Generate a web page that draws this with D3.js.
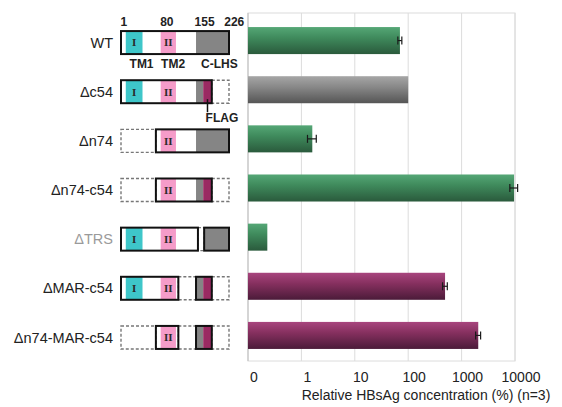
<!DOCTYPE html>
<html>
<head>
<meta charset="utf-8">
<script src="https://cdn.jsdelivr.net/npm/d3@7"></script>
<style>
  body { margin: 0; background: #fff; }
  text { font-family: "Liberation Sans", Arial, sans-serif; }
</style>
</head>
<body>
<svg id="chart" width="562" height="407"></svg>
<script>
// constructs and measured HBsAg (% of control)
const constructs = ['WT', 'Δc54', 'Δn74', 'Δn74-c54', 'ΔTRS', 'ΔMAR-c54', 'Δn74-MAR-c54'];
const values = [70, 100, 1.6, 9600, 0.23, 490, 2050];
const errors = [6, 0, 0.3, 1600, 0, 50, 220];
const barKinds = ['green', 'gray', 'green', 'green', 'green', 'purple', 'purple'];
const tickValues = [0.1, 1, 10, 100, 1000, 10000];
const tickLabels = ['0', '1', '10', '100', '1000', '10000'];

// protein map (residue coordinates)
const residueLabels = ['1', '80', '155', '226'];
const residueLabelPos = [6, 96, 175, 237];
const domainLabels = ['TM1', 'TM2', 'C-LHS'];
const domainLabelPos = [43, 109, 206];
const kept = [
  [[0, 226]],
  [[0, 190]],
  [[73, 226]],
  [[73, 190]],
  [[0, 161], [174, 226]],
  [[0, 120], [157, 190]],
  [[73, 120], [157, 190]]
];
const deleted = [
  [],
  [[190, 226]],
  [[0, 73]],
  [[0, 73], [190, 226]],
  [[161, 174]],
  [[120, 157], [190, 226]],
  [[0, 73], [120, 157], [190, 226]]
];
// [start, end, type]
const fills = [
  [[10, 45, 'tm1'], [83, 115, 'tm2'], [157, 226, 'lhs']],
  [[10, 45, 'tm1'], [83, 115, 'tm2'], [157, 172, 'lhs'], [172, 190, 'flag']],
  [[83, 115, 'tm2'], [157, 226, 'lhs']],
  [[83, 115, 'tm2'], [157, 172, 'lhs'], [172, 190, 'flag']],
  [[10, 45, 'tm1'], [83, 115, 'tm2'], [174, 226, 'lhs']],
  [[10, 45, 'tm1'], [83, 115, 'tm2'], [157, 172, 'lhs'], [172, 190, 'flag']],
  [[83, 115, 'tm2'], [157, 172, 'lhs'], [172, 190, 'flag']]
];
const fillColors = {tm1: '#3ec6c9', tm2: '#f59cc9', lhs: '#858585', flag: '#9a2a62'};
const numerals = {tm1: 'I', tm2: 'II'};

const svg = d3.select('#chart');

const y = d3.scaleBand().domain(constructs).range([16, 360]).paddingInner(0.45).paddingOuter(0.225);
const x = d3.scaleLog().domain([0.1, 10000]).range([248, 515]);
const r = d3.scaleLinear().domain([0, 226]).range([121, 229]);

// gradients for bars
const defs = svg.append('defs');
const grads = {
  green: ['#55a776', '#3f8a5c', '#2a5a3c'],
  gray: ['#a6a6a6', '#888888', '#555555'],
  purple: ['#a8457e', '#86305f', '#4b1b39']
};
Object.keys(grads).forEach(function (k) {
  const g = defs.append('linearGradient').attr('id', 'g-' + k)
    .attr('x1', 0).attr('y1', 0).attr('x2', 0).attr('y2', 1);
  g.append('stop').attr('offset', '0%').attr('stop-color', grads[k][0]);
  g.append('stop').attr('offset', '40%').attr('stop-color', grads[k][1]);
  g.append('stop').attr('offset', '100%').attr('stop-color', grads[k][2]);
});

// plot frame and grid
const plotTop = y.range()[0] - 3, plotBottom = y.range()[1] + 1;
svg.append('rect')
  .attr('x', x.range()[0]).attr('y', plotTop)
  .attr('width', x.range()[1] - x.range()[0]).attr('height', plotBottom - plotTop)
  .attr('fill', 'none').attr('stroke', '#dcdcdc');
svg.selectAll('.grid').data(tickValues).enter().append('line')
  .attr('class', 'grid')
  .attr('x1', d => x(d)).attr('x2', d => x(d))
  .attr('y1', plotTop).attr('y2', plotBottom)
  .attr('stroke', (d, i) => i === 0 ? '#bdbdbd' : '#dcdcdc');

// bars
svg.selectAll('.bar').data(constructs).enter().append('rect')
  .attr('class', 'bar')
  .attr('x', x(0.1))
  .attr('y', d => y(d))
  .attr('width', (d, i) => x(values[i]) - x(0.1))
  .attr('height', y.bandwidth())
  .attr('fill', (d, i) => 'url(#g-' + barKinds[i] + ')');

// error bars
constructs.forEach(function (c, i) {
  if (!errors[i]) return;
  const cy = y(c) + y.bandwidth() / 2;
  const x0 = x(values[i] - errors[i]), x1 = x(values[i] + errors[i]);
  const e = svg.append('g').attr('stroke', '#1a1a1a').attr('stroke-width', 1.2);
  e.append('line').attr('x1', x0).attr('x2', x1).attr('y1', cy).attr('y2', cy);
  e.append('line').attr('x1', x0).attr('x2', x0).attr('y1', cy - 4).attr('y2', cy + 4);
  e.append('line').attr('x1', x1).attr('x2', x1).attr('y1', cy - 4).attr('y2', cy + 4);
});

// x axis labels
svg.selectAll('.tick-label').data(tickValues).enter().append('text')
  .attr('x', d => x(d) + 6).attr('y', 382)
  .attr('text-anchor', 'middle').attr('font-size', 14).attr('fill', '#222')
  .text((d, i) => tickLabels[i]);
svg.append('text')
  .attr('x', 426).attr('y', 400).attr('text-anchor', 'middle')
  .attr('font-size', 14).attr('fill', '#222')
  .text('Relative HBsAg concentration (%) (n=3)');

// row labels
svg.selectAll('.row-label').data(constructs).enter().append('text')
  .attr('x', 113).attr('y', d => y(d) + y.bandwidth() / 2 + 2)
  .attr('dy', '0.35em').attr('text-anchor', 'end').attr('font-size', 14.5)
  .attr('fill', d => d === 'ΔTRS' ? '#9a9a9a' : '#222')
  .text(d => d);

// protein maps
const boxH = 23;
constructs.forEach(function (c, i) {
  const cy = y(c) + y.bandwidth() / 2 + 2;
  const g = svg.append('g');
  kept[i].forEach(function (s) {
    g.append('rect').attr('x', r(s[0])).attr('y', cy - boxH / 2)
      .attr('width', r(s[1]) - r(s[0])).attr('height', boxH).attr('fill', '#fff');
  });
  fills[i].forEach(function (f) {
    g.append('rect').attr('x', r(f[0])).attr('y', cy - boxH / 2)
      .attr('width', r(f[1]) - r(f[0])).attr('height', boxH)
      .attr('fill', fillColors[f[2]]);
    if (numerals[f[2]]) {
      g.append('text').attr('x', (r(f[0]) + r(f[1])) / 2).attr('y', cy)
        .attr('dy', '0.35em').attr('text-anchor', 'middle')
        .style('font-family', '"Liberation Serif", "DejaVu Serif", serif')
        .attr('font-weight', 'bold')
        .attr('font-size', 11).attr('fill', '#2a2a2a')
        .text(numerals[f[2]]);
    }
  });
  deleted[i].forEach(function (s) {
    g.append('rect').attr('x', r(s[0])).attr('y', cy - boxH / 2)
      .attr('width', r(s[1]) - r(s[0])).attr('height', boxH)
      .attr('fill', 'none').attr('stroke', '#777').attr('stroke-width', 1.4)
      .attr('stroke-dasharray', '3,2');
  });
  kept[i].forEach(function (s) {
    g.append('rect').attr('x', r(s[0])).attr('y', cy - boxH / 2)
      .attr('width', r(s[1]) - r(s[0])).attr('height', boxH)
      .attr('fill', 'none').attr('stroke', '#111').attr('stroke-width', 2);
  });
});

// residue numbers and domain names
const wtTop = y('WT') + y.bandwidth() / 2 + 2 - boxH / 2;
svg.selectAll('.res-label').data(residueLabels).enter().append('text')
  .attr('x', (d, i) => r(residueLabelPos[i])).attr('y', wtTop - 5)
  .attr('text-anchor', 'middle').attr('font-size', 12).attr('font-weight', 'bold')
  .attr('fill', '#222').text(d => d);
svg.selectAll('.dom-label').data(domainLabels).enter().append('text')
  .attr('x', (d, i) => r(domainLabelPos[i])).attr('y', wtTop + boxH + 14)
  .attr('text-anchor', 'middle').attr('font-size', 12).attr('font-weight', 'bold')
  .attr('fill', '#222').text(d => d);

// FLAG pointer
const c54Bottom = y('Δc54') + y.bandwidth() / 2 + 2 + boxH / 2;
svg.append('line')
  .attr('x1', r(181)).attr('x2', r(181))
  .attr('y1', c54Bottom - 4).attr('y2', c54Bottom + 9)
  .attr('stroke', '#111').attr('stroke-width', 1.5);
svg.append('text')
  .attr('x', r(177)).attr('y', c54Bottom + 19)
  .attr('font-size', 12).attr('font-weight', 'bold').attr('fill', '#222')
  .text('FLAG');
</script>
</body>
</html>
